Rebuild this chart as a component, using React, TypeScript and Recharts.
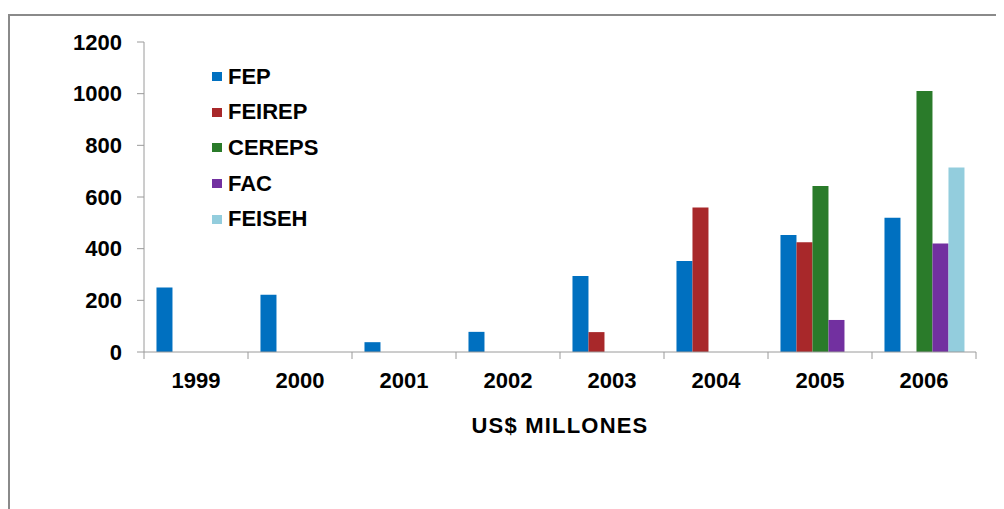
import React from 'react';
import { BarChart, Bar, XAxis, YAxis, Legend } from 'recharts';

const years = ['1999', '2000', '2001', '2002', '2003', '2004', '2005', '2006'];
const fep = [250, 222, 38, 78, 294, 352, 453, 520];
const feirep = [null, null, null, null, 77, 559, 425, null];
const cereps = [null, null, null, null, null, null, 643, 1010];
const fac = [null, null, null, null, null, null, 124, 420];
const feiseh = [null, null, null, null, null, null, null, 714];
const yTicks = [0, 200, 400, 600, 800, 1000, 1200];
const edgeTicks = [0, 1, 2, 3, 4, 5, 6, 7, 8];

const series = [
  { key: 'FEP', values: fep, color: '#0070c0' },
  { key: 'FEIREP', values: feirep, color: '#a8282a' },
  { key: 'CEREPS', values: cereps, color: '#2a7b2a' },
  { key: 'FAC', values: fac, color: '#7230a0' },
  { key: 'FEISEH', values: feiseh, color: '#93cddd' },
];

// slot = category index, used only by the numeric axis that draws the boundary ticks
const data = years.map((year, i) => {
  const row: Record<string, any> = { year, slot: i + 0.5 };
  series.forEach(s => { row[s.key] = s.values[i]; });
  return row;
});

const FONT = "'Liberation Sans', Arial, sans-serif";
const AXIS = '#9a9a9a';

const LegendBox = () => (
  <div style={{ fontFamily: FONT, fontWeight: 'bold', fontSize: 22, color: '#000' }}>
    {series.map(s => (
      <div key={s.key} style={{ height: 35.6, display: 'flex', alignItems: 'center' }}>
        <span style={{ display: 'inline-block', width: 10, height: 9, background: s.color, marginRight: 6 }} />
        <span>{s.key}</span>
      </div>
    ))}
  </div>
);

const NoLabel = () => <g />;

export default function App() {
  const tickStyle = { fontFamily: FONT, fontWeight: 'bold', fontSize: 22, fill: '#000' };
  return (
    <div style={{ paddingTop: 6 }}>
      <div style={{ width: 996, height: 495, borderTop: '2px solid #8a8a8a', borderLeft: '2px solid #8a8a8a', background: '#fff' }}>
        <BarChart
          width={994}
          height={490}
          data={data}
          margin={{ top: 26, right: 28, left: 0, bottom: 73 }}
          barCategoryGap="12%"
          barGap={0}
        >
          <XAxis
            xAxisId={0}
            dataKey="slot"
            type="number"
            domain={[0, 8]}
            ticks={edgeTicks}
            allowDataOverflow
            height={1}
            tick={NoLabel}
            tickSize={7}
            stroke={AXIS}
            axisLine={{ stroke: AXIS }}
            tickLine={{ stroke: AXIS }}
          />
          <XAxis
            xAxisId={1}
            dataKey="year"
            height={80}
            axisLine={false}
            tickLine={false}
            tickSize={6}
            tickMargin={13}
            tick={tickStyle}
            interval={0}
            label={{ value: 'US$ MILLONES', position: 'insideBottom', offset: 0, style: { ...tickStyle, letterSpacing: 1.2 } }}
          />
          <YAxis
            width={134}
            domain={[0, 1200]}
            ticks={yTicks}
            tickSize={7}
            tickMargin={15}
            tick={tickStyle}
            axisLine={{ stroke: AXIS }}
            tickLine={{ stroke: AXIS }}
          />
          <Legend
            layout="vertical"
            align="center"
            verticalAlign="middle"
            content={<LegendBox />}
            wrapperStyle={{ left: 202, top: 43, width: 'auto' }}
          />
          {series.map(s => (
            <Bar key={s.key} xAxisId={1} dataKey={s.key} fill={s.color} isAnimationActive={false} />
          ))}
        </BarChart>
      </div>
    </div>
  );
}
